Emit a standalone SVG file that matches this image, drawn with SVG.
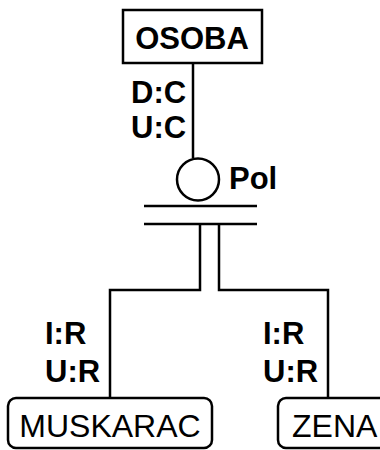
<svg xmlns="http://www.w3.org/2000/svg" width="380" height="450" viewBox="0 0 380 450">
<style>
.b{fill:#fff;stroke:#000;stroke-width:2.5}
.l{fill:none;stroke:#000;stroke-width:2.5}
.tb{font-family:"Liberation Sans",Arial,sans-serif;font-weight:bold;font-size:31px;fill:#000}
.tn{font-family:"Liberation Sans",Arial,sans-serif;font-size:32px;fill:#000}
</style>
<rect width="380" height="450" fill="#fff"/>
<g id="connectors">
<path class="l" d="M193,63 V158"/>
<path class="l" d="M144,206 H257 M144,224 H257"/>
<path class="l" d="M200,224 V290 H110 V398"/>
<path class="l" d="M219,224 V290 H328 V398"/>
<text class="tb" x="131" y="103">D:C</text>
<text class="tb" x="131" y="138">U:C</text>
<text class="tb" x="45" y="344">I:R</text>
<text class="tb" x="45" y="382">U:R</text>
<text class="tb" x="263" y="344">I:R</text>
<text class="tb" x="263" y="382">U:R</text>
</g>
<g id="osoba">
<rect class="b" x="123" y="10" width="139" height="53"/>
<text class="tb" x="192" y="49" text-anchor="middle" font-size="32">OSOBA</text>
</g>
<g id="pol">
<circle class="b" cx="198" cy="179.5" r="21"/>
<text class="tb" x="229" y="189">Pol</text>
</g>
<g id="muskarac">
<rect class="b" x="8" y="398" width="204" height="50" rx="8"/>
<text class="tn" x="110" y="437" text-anchor="middle">MUSKARAC</text>
</g>
<g id="zena">
<rect class="b" x="278" y="398" width="114" height="50" rx="8"/>
<text class="tn" x="292" y="437">ZENA</text>
</g>
</svg>
